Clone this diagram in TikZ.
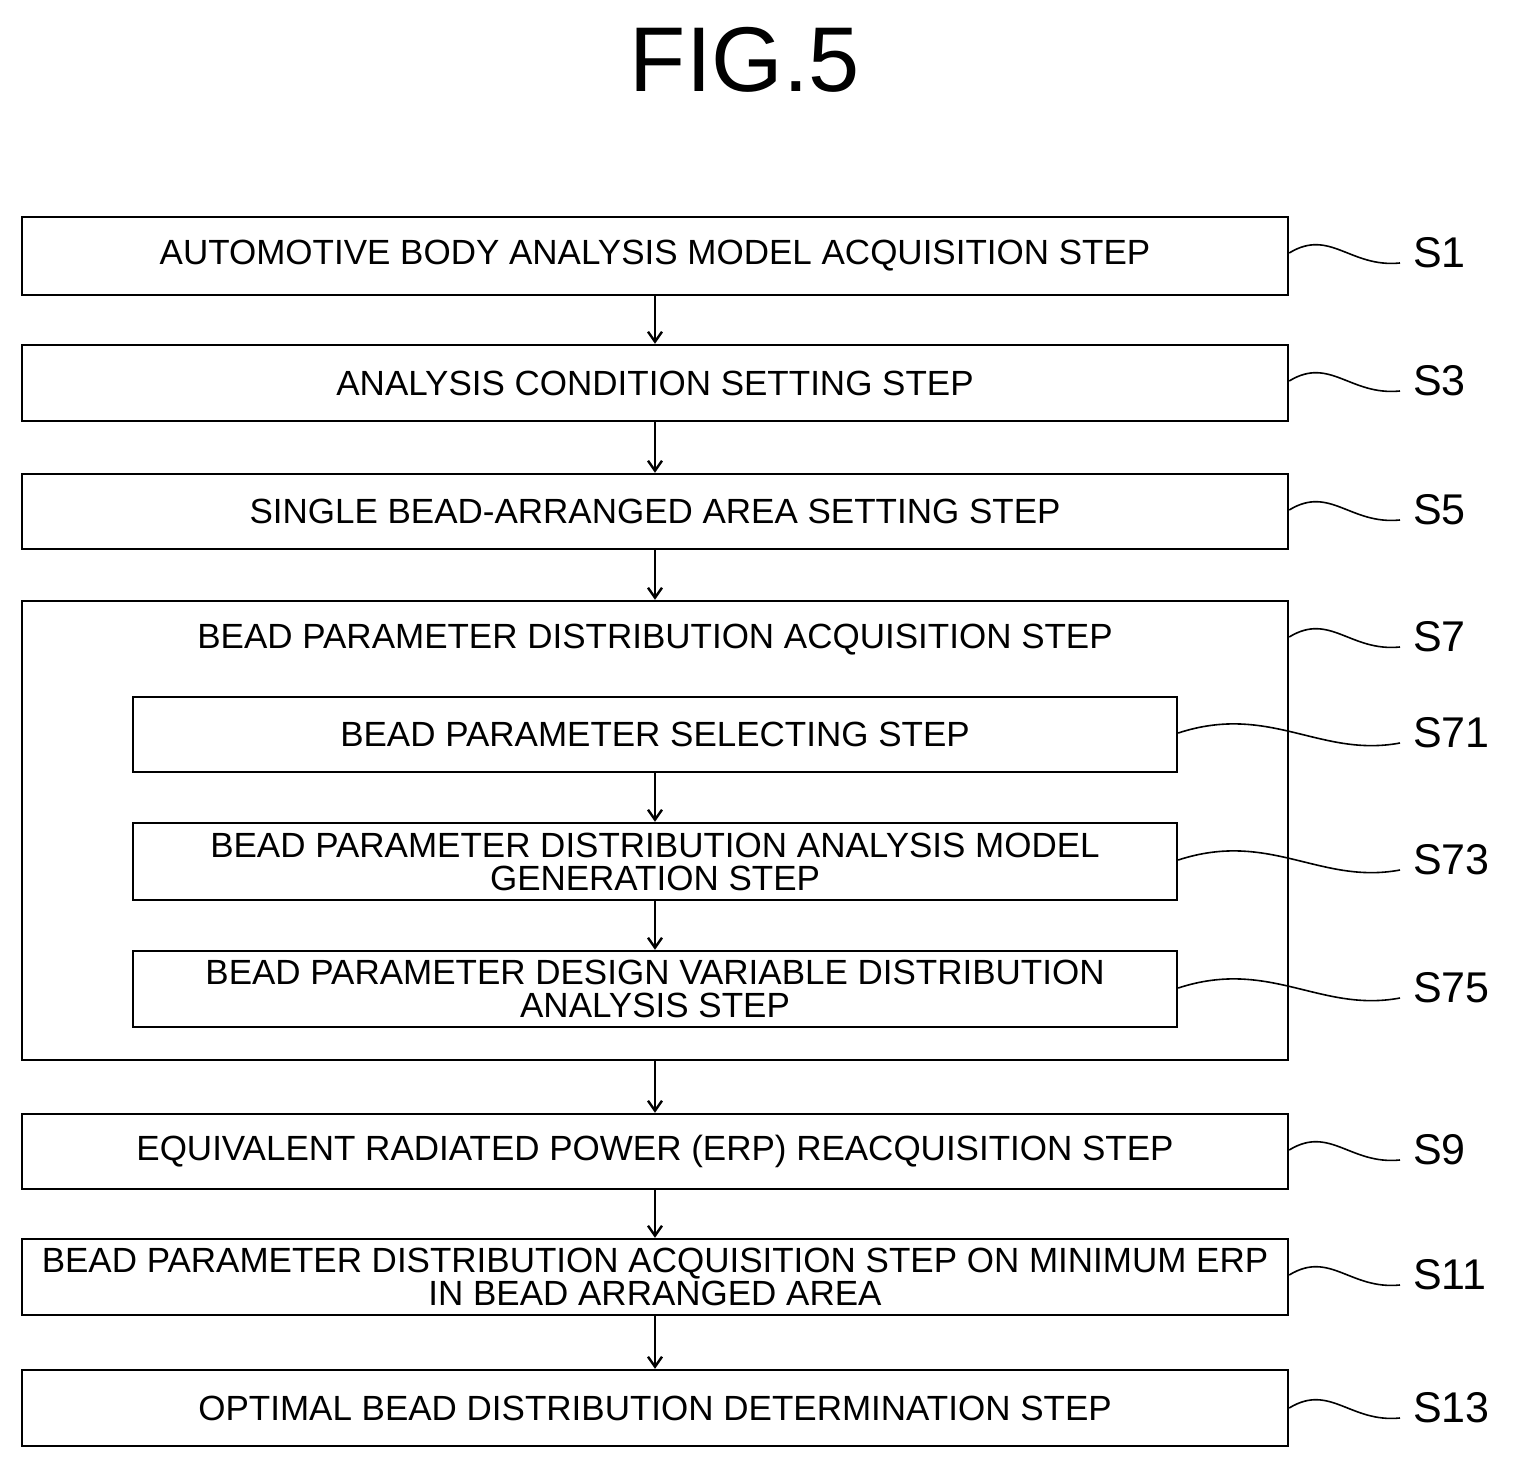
\documentclass[tikz,border=0pt]{standalone}
\usepackage{fontspec}
\setmainfont{Liberation Sans}
\usetikzlibrary{arrows.meta}
\begin{document}
\begin{tikzpicture}[x=0.5pt,y=-0.5pt,
 box/.style={draw,line width=1.2pt,inner sep=0pt,font=\fontsize{17.5}{16.5}\selectfont,align=center},
 arr/.style={-{Straight Barb[length=5pt,width=7pt]},line width=1.2pt},
 lab/.style={font=\fontsize{21.5}{21}\selectfont,anchor=west},
 wave/.style={line width=0.8pt}]
\useasboundingbox (0,0) rectangle (1515,1470);
\node[font=\fontsize{46}{46}\selectfont] (title) at (745,60) {FIG.5};
\newcommand{\bx}[6]{\node[box,minimum width=#3*0.5pt-#2*0.5pt,minimum height=#5*0.5pt-#4*0.5pt] (#1) at ({(#2+#3)/2},{(#4+#5)/2}) {#6};}
\bx{s1}{22}{1288}{217}{295}{AUTOMOTIVE BODY ANALYSIS MODEL ACQUISITION STEP}
\bx{s3}{22}{1288}{345}{421}{ANALYSIS CONDITION SETTING STEP}
\bx{s5}{22}{1288}{474}{549}{SINGLE BEAD-ARRANGED AREA SETTING STEP}
\bx{s7}{22}{1288}{601}{1060}{}
\node[font=\fontsize{17.5}{16.5}\selectfont] (s7t) at (655,640) {BEAD PARAMETER DISTRIBUTION ACQUISITION STEP};
\bx{s71}{133}{1177}{697}{772}{BEAD PARAMETER SELECTING STEP}
\bx{s73}{133}{1177}{823}{900}{BEAD PARAMETER DISTRIBUTION ANALYSIS MODEL\\GENERATION STEP}
\bx{s75}{133}{1177}{951}{1027}{BEAD PARAMETER DESIGN VARIABLE DISTRIBUTION\\ANALYSIS STEP}
\bx{s9}{22}{1288}{1114}{1189}{EQUIVALENT RADIATED POWER (ERP) REACQUISITION STEP}
\bx{s11}{22}{1288}{1239}{1315}{BEAD PARAMETER DISTRIBUTION ACQUISITION STEP ON MINIMUM ERP\\IN BEAD ARRANGED AREA}
\bx{s13}{22}{1288}{1370}{1446}{OPTIMAL BEAD DISTRIBUTION DETERMINATION STEP}
\foreach \a/\b in {s1/s3,s3/s5,s5/s7,s71/s73,s73/s75,s7/s9,s9/s11,s11/s13}
 \draw[arr] (\a.south -| 655,0) -- (\b.north -| 655,0);
\foreach \n/\y/\t in {s1/253/S1,s3/381/S3,s5/510/S5,s7/637/S7,s9/1150/S9,s11/1275/S11,s13/1408/S13}{
 \coordinate (w\n) at (1400,\y+10);
 \draw[wave] (\n.east |- 0,\y) .. controls (1330,\y-25) and (1350,\y+15) .. (w\n);
 \node[lab] (l\n) at (1406,\y) {\t};}
\foreach \n/\y/\t in {s71/733/S71,s73/860/S73,s75/988/S75}{
 \coordinate (w\n) at (1400,\y+10);
 \draw[wave] (\n.east |- 0,\y) .. controls (1270,\y-30) and (1320,\y+25) .. (w\n);
 \node[lab] (l\n) at (1406,\y) {\t};}
\end{tikzpicture}
\end{document}
